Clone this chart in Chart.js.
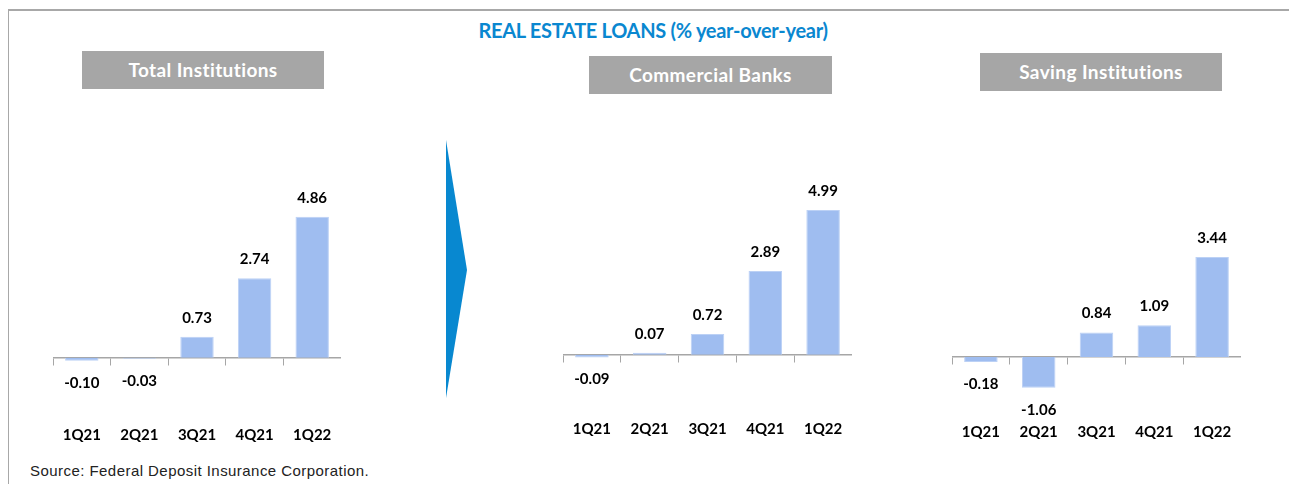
<!DOCTYPE html>
<html>
<head>
<meta charset="utf-8">
<script src="https://cdn.jsdelivr.net/npm/chart.js@4.4.1/dist/chart.umd.min.js"></script>
<style>
  body { margin: 0; background: #fff; width: 1289px; height: 484px; position: relative; overflow: hidden; font-family: Lato, sans-serif; }
  #frame { position: absolute; left: 8px; top: 9px; width: 1290px; height: 480px; border-top: 2px solid #a8a8a8; border-left: 1px solid #a8a8a8; }
  #title { position: absolute; left: 0; width: 1306px; top: 18px; text-align: center; color: #0a87d0; font: bold 20px Lato, sans-serif; letter-spacing: -0.3px; }
  .head { position: absolute; height: 38px; background: #a6a6a6; color: #fff; text-align: center; font: bold 19px/38px Lato, sans-serif; letter-spacing: 0.4px; }
  .box { position: absolute; }
  #arrow { position: absolute; left: 446px; top: 140px; width: 21px; height: 258px; background: #0888d0; clip-path: polygon(0 0, 100% 50.4%, 0 100%); }
  #source { position: absolute; left: 30px; top: 462px; font: 15px "Liberation Sans", Arial, sans-serif; letter-spacing: 0.45px; color: #222; }
</style>
</head>
<body>
<div id="frame"></div>
<div id="title">REAL ESTATE LOANS (% year-over-year)</div>

<div class="head" style="left:82px; top:51px; width:242px;">Total Institutions</div>
<div class="head" style="left:589px; top:56px; width:243px;">Commercial Banks</div>
<div class="head" style="left:980px; top:53px; width:242px;">Saving Institutions</div>

<div id="arrow"></div>

<div class="box" style="left:53px; top:124px;"><canvas id="total" width="288" height="324"></canvas></div>
<div class="box" style="left:563px; top:124px;"><canvas id="banks" width="289" height="318"></canvas></div>
<div class="box" style="left:952px; top:123px;"><canvas id="savings" width="289" height="322"></canvas></div>

<div id="source">Source: Federal Deposit Insurance Corporation.</div>

<script>
const quarters = ["1Q21", "2Q21", "3Q21", "4Q21", "1Q22"];
const totalInstitutions = [-0.10, -0.03, 0.73, 2.74, 4.86];
const commercialBanks = [-0.09, 0.07, 0.72, 2.89, 4.99];
const savingInstitutions = [-0.18, -1.06, 0.84, 1.09, 3.44];

const labelFont = { family: "Lato", weight: "bold", size: 15 };

// value labels above positive bars, below negative ones
const valueLabels = {
  id: "valueLabels",
  afterDatasetsDraw(chart) {
    const ctx = chart.ctx;
    const data = chart.data.datasets[0].data;
    ctx.save();
    ctx.font = "bold 15px Lato";
    ctx.fillStyle = "#000";
    ctx.textAlign = "center";
    ctx.textBaseline = "middle";
    chart.getDatasetMeta(0).data.forEach(function (bar, i) {
      let v = data[i];
      let y = v >= 0 ? bar.y - 19 : bar.y + 22;
      ctx.fillText(v.toFixed(2), bar.x, y);
    });
    ctx.restore();
  }
};

function makeChart(id, values, yMin, yMax) {
  return new Chart(document.getElementById(id), {
    type: "bar",
    data: {
      labels: quarters,
      datasets: [{
        data: values,
        backgroundColor: "#9fbdf0",
        borderColor: "#bcd1f5",
        borderWidth: 1,
        categoryPercentage: 1,
        barPercentage: 0.58
      }]
    },
    options: {
      responsive: false,
      animation: false,
      layout: { padding: 0 },
      plugins: { legend: { display: false }, tooltip: { enabled: false } },
      scales: {
        // quarter names along the bottom
        x: {
          position: "bottom",
          grid: { display: false, drawTicks: false },
          border: { display: false },
          ticks: { font: labelFont, color: "#000", padding: 4 }
        },
        // zero line with the tick marks between quarters
        x0: {
          type: "category",
          position: { y: 0 },
          grid: { drawOnChartArea: false, drawTicks: true, tickLength: 7, color: "#a6a6a6", offset: true },
          border: { color: "#a6a6a6", width: 1.5 },
          ticks: { display: false }
        },
        y: { display: false, min: yMin, max: yMax }
      }
    },
    plugins: [valueLabels]
  });
}

makeChart("total", totalInstitutions, -2.21, 8.06);
makeChart("banks", commercialBanks, -2.11, 7.96);
makeChart("savings", savingInstitutions, -2.14, 8.06);
</script>
</body>
</html>
